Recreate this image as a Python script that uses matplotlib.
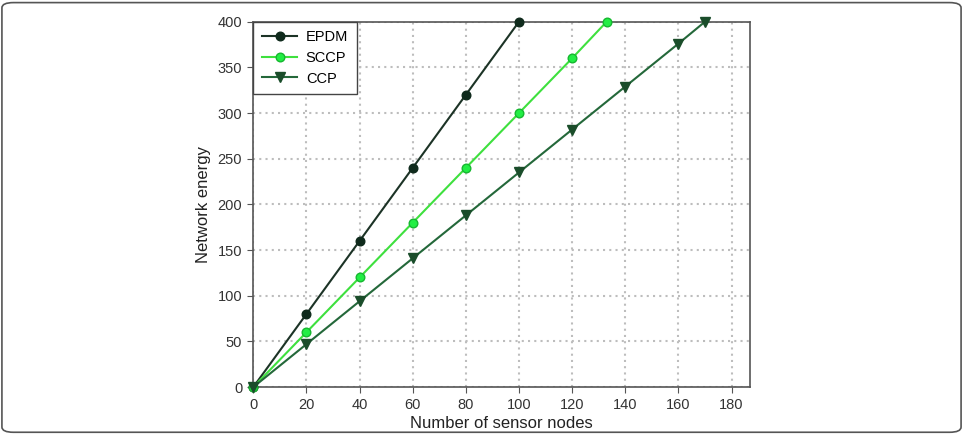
import matplotlib
matplotlib.use('Agg')
import matplotlib.pyplot as plt
from matplotlib.patches import FancyBboxPatch

# Daten
epdm_x = [0, 20, 40, 60, 80, 100]
epdm_y = [0, 80, 160, 240, 320, 400]
sccp_x = [0, 20, 40, 60, 80, 100, 120, 133]
sccp_y = [0, 60, 120, 180, 240, 300, 360, 400]
ccp_x = [0, 20, 40, 60, 80, 100, 120, 140, 160, 170]
ccp_y = [0, 47, 94, 141, 188, 235, 282, 329, 376, 400]

xticks = [0, 20, 40, 60, 80, 100, 120, 140, 160, 180]
yticks = [0, 50, 100, 150, 200, 250, 300, 350, 400]

plt.rcParams['font.family'] = ['Liberation Sans', 'DejaVu Sans']

fig = plt.figure(figsize=(9.63, 4.34), dpi=100)
ax = fig.add_axes([0.263, 0.108, 0.516, 0.842])

ax.plot(epdm_x, epdm_y, color='#1c3326', lw=1.5, marker='o', ms=6.2,
        markerfacecolor='#0f2a1c', markeredgecolor='#0f2a1c', label='EPDM', clip_on=False, zorder=3)
ax.plot(sccp_x, sccp_y, color='#3ee03e', lw=1.5, marker='o', ms=6.2,
        markerfacecolor='#22ee44', markeredgecolor='#16b830', label='SCCP', clip_on=False, zorder=3)
ax.plot(ccp_x, ccp_y, color='#24683a', lw=1.5, marker='v', ms=6.5,
        markerfacecolor='#1a4d2a', markeredgecolor='#1a4d2a', label='CCP', clip_on=False, zorder=3)

ax.set_xlim(0, 187)
ax.set_ylim(0, 400)
ax.set_xticks(xticks)
ax.set_yticks(yticks)
ax.grid(True, color='#bdbdbd', linestyle=(0, (1.0, 2.0)), linewidth=1.5)
ax.tick_params(direction='out', length=4, color='#555555', labelcolor='#333333',
               labelsize=10.5, pad=4)
for s in ax.spines.values():
    s.set_color('#555555')
    s.set_linewidth(1.2)

ax.set_xlabel('Number of sensor nodes', fontsize=12, color='#222222', labelpad=3)
ax.set_ylabel('Network energy', fontsize=12, color='#222222', labelpad=5)

leg = ax.legend(loc='upper left', borderaxespad=0, fancybox=False, framealpha=1,
                edgecolor='#444444', fontsize=10.5, handlelength=2.4,
                borderpad=0.6, labelspacing=0.45, handletextpad=0.6)
leg.get_frame().set_linewidth(1.0)
leg.set_zorder(5)

# Rahmen um die ganze Grafik
frame = FancyBboxPatch((0.002, 0.004), 0.996, 0.99, boxstyle='round,pad=0,rounding_size=0.012',
                       transform=fig.transFigure, fill=False, edgecolor='#555555', lw=1.2)
fig.patches.append(frame)

fig.savefig('out.png', dpi=100)
